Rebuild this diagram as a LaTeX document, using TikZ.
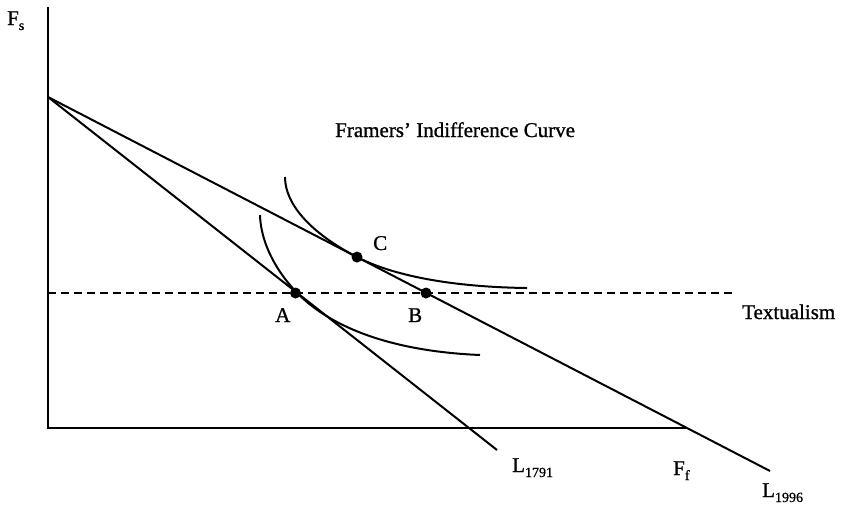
\documentclass[tikz,border=0pt]{standalone}
\usepackage{fontspec}
\setmainfont{Liberation Serif}[FakeBold=1]
\newcommand{\lbl}[2]{#1\raisebox{-5pt}{\fontsize{14}{14}\selectfont #2}}
\begin{document}
\begin{tikzpicture}[x=1pt,y=-1pt,
  curve/.style={line width=2pt},
  axisline/.style={line width=2pt},
  dashline/.style={line width=1.8pt, dash pattern=on 8pt off 5pt},
  dotnode/.style={circle, fill=black, inner sep=0pt, minimum size=11pt},
  lab/.style={anchor=base west, inner sep=0pt, font=\fontsize{21}{24}\selectfont}]
\useasboundingbox (0,0) rectangle (842,504);
% key points
\coordinate (top) at (48,7);
\coordinate (orig) at (48,428);
\coordinate (xend) at (686,428);
\coordinate (icpt) at (48,97);
\coordinate (e1791) at (497,450);
\coordinate (e1996) at (770,471);
\coordinate (dstart) at (48,293);
\coordinate (dend) at (733,293);
% axes
\draw[axisline] (top) -- (orig) -- (xend);
% budget lines
\draw[curve] (icpt) -- (e1791);
\draw[curve] (icpt) -- (e1996);
% textualism dashed line
\draw[dashline] (dstart) -- (dend);
% tangency points
\coordinate (pA) at (295.5,293);
\coordinate (pB) at (426,293);
\coordinate (pC) at (357,257.06);
\coordinate (Tl) at (310,304.5);
% indifference curves
\draw[curve] (285,177) .. controls (285,205) and (312,233.7) .. (pC)
  .. controls (392,275.2) and (450,287) .. (527,288);
\draw[curve] (260,215) .. controls (261,250) and (285,284.7) .. (Tl)
  .. controls (350,336.2) and (410,352) .. (480,355);
% dots
\node[dotnode] (A) at (pA) {};
\node[dotnode] (B) at (pB) {};
\node[dotnode] (C) at (pC) {};
% labels
\node[lab] (Fs) at (7,25) {F\raisebox{-5pt}{\fontsize{14}{14}\selectfont s}};
\node[lab] (title) at (335,137) {Framers' Indifference Curve};
\node[lab] (text) at (742,319) {Textualism};
\node[lab] (Alab) at (275,322) {A};
\node[lab] (Blab) at (408,322) {B};
\node[lab] (Clab) at (373,250) {C};
\node[lab] (L1) at (512,472) {\lbl{L}{1791}};
\node[lab] (Ff) at (673,475) {F\raisebox{-5pt}{\fontsize{14}{14}\selectfont f}};
\node[lab] (L2) at (762,497) {\lbl{L}{1996}};
\end{tikzpicture}
\end{document}
